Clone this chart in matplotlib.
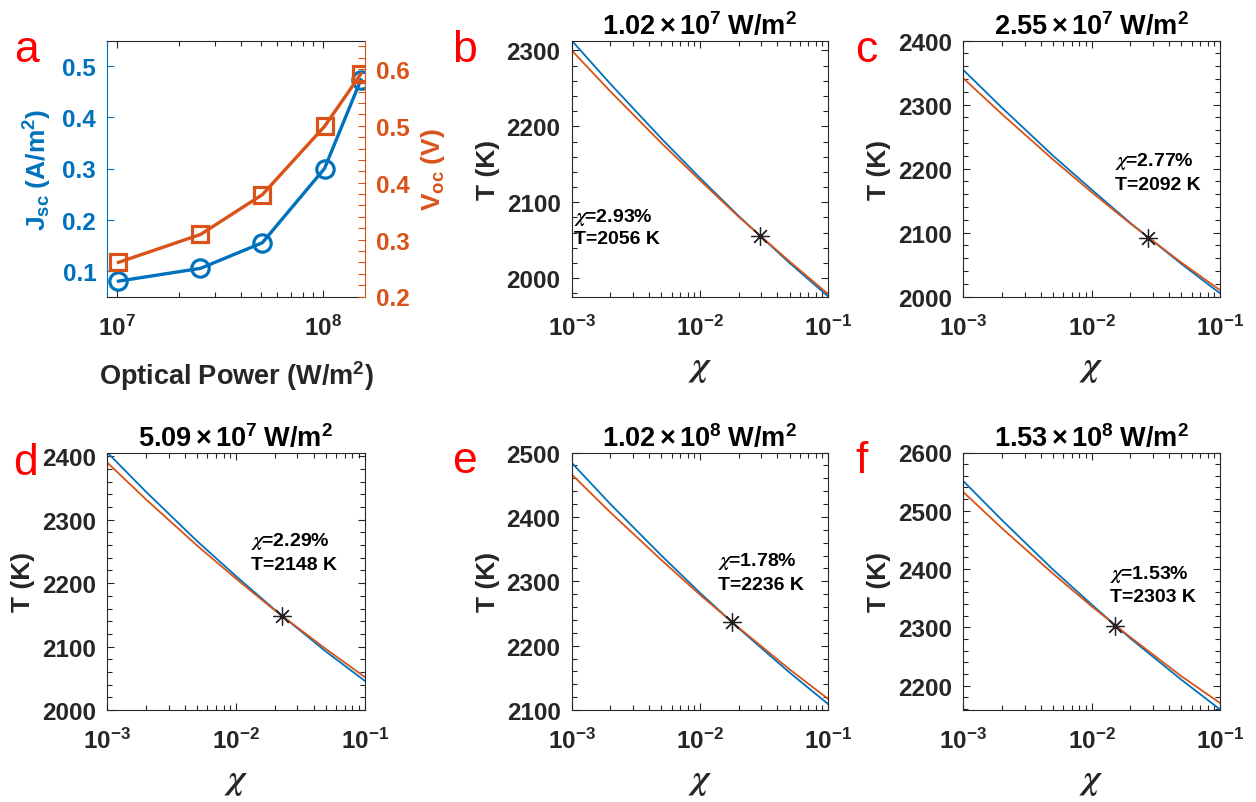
import numpy as np
import matplotlib
matplotlib.use('Agg')
import matplotlib.pyplot as plt
from matplotlib.ticker import FixedLocator, FixedFormatter, MultipleLocator, LogLocator, NullFormatter

plt.rcParams['font.family'] = ['Liberation Sans', 'DejaVu Sans']
plt.rcParams['font.weight'] = 'bold'
plt.rcParams['axes.labelweight'] = 'bold'
plt.rcParams['axes.titleweight'] = 'bold'
plt.rcParams['mathtext.fontset'] = 'custom'
plt.rcParams['mathtext.rm'] = 'Liberation Sans'
plt.rcParams['mathtext.bf'] = 'Liberation Sans:bold'
plt.rcParams['mathtext.it'] = 'STIXGeneral:italic'
plt.rcParams['mathtext.sf'] = 'Liberation Sans'

# ---- data ----
power = [1.02e7, 2.55e7, 5.09e7, 1.02e8, 1.53e8]      # W/m^2
jsc = [0.080, 0.105, 0.155, 0.300, 0.473]            # A/m^2
voc = [0.260, 0.309, 0.379, 0.499, 0.591]            # V

chi = [0.001, 0.002, 0.005, 0.01, 0.02, 0.05, 0.1]
T_blue = [
    [2313, 2256, 2184, 2132, 2082, 2020, 1976],
    [2354, 2295, 2220, 2167, 2115, 2051, 2005],
    [2406, 2344, 2266, 2211, 2158, 2092, 2046],
    [2484, 2420, 2340, 2282, 2227, 2158, 2109],
    [2551, 2484, 2399, 2339, 2281, 2210, 2159],
]
T_orange = [
    [2300, 2246, 2178, 2129, 2081, 2022, 1979],
    [2341, 2285, 2214, 2163, 2114, 2053, 2010],
    [2390, 2332, 2259, 2207, 2157, 2096, 2052],
    [2466, 2407, 2333, 2279, 2228, 2163, 2117],
    [2532, 2470, 2392, 2336, 2283, 2216, 2170],
]
chi_opt = [0.0293, 0.0277, 0.0229, 0.0178, 0.0153]
T_opt = [2056, 2092, 2148, 2236, 2303]
T_lims = [(1976, 2313), (2000, 2400), (2000, 2406), (2100, 2500), (2158, 2600)]

blue = '#0072BD'
orange = '#D95319'
dark = '#262626'
W, H = 1256, 803
fs = 17.5

fig = plt.figure(figsize=(W / 100, H / 100), dpi=100)


def box(left, top, right, bottom):
    return [left / W, 1 - bottom / H, (right - left) / W, (bottom - top) / H]


def ftext(x, y, s, **kw):
    fig.text(x / W, 1 - y / H, s, **kw)


def log_label(e):
    return r'$\mathbf{10^{%d}}$' % e


# ---- panel a ----
ax = fig.add_axes(box(107.3, 41.5, 364.8, 297.5))
ax.set_xscale('log')
ax.plot(power, jsc, '-o', color=blue, lw=2.4, ms=12.5, mew=2.3, mfc='none')
ax.set_xlim(9e6, 1.6e8)
ax.set_ylim(0.05, 0.55)
ax.set_yticks([0.1, 0.2, 0.3, 0.4, 0.5])
ax.set_yticklabels(['0.1', '0.2', '0.3', '0.4', '0.5'])
ax.xaxis.set_major_locator(FixedLocator([1e7, 1e8]))
ax.xaxis.set_major_formatter(FixedFormatter([log_label(7), log_label(8)]))
ax.xaxis.set_minor_locator(LogLocator(base=10, subs=np.arange(2, 10)))
ax.xaxis.set_minor_formatter(NullFormatter())
ax.tick_params(axis='x', which='both', direction='in', top=True, colors=dark,
               labelsize=fs, pad=13)
ax.tick_params(axis='x', which='major', length=5, width=0.8)
ax.tick_params(axis='x', which='minor', length=3.5, width=0.8)
ax.tick_params(axis='y', direction='in', colors=blue, labelsize=fs, pad=8, length=5, width=0.8)
ax.spines['left'].set_color(blue)
ax.spines['right'].set_visible(False)
for s in ['top', 'bottom']:
    ax.spines[s].set_color(dark)
for s in ax.spines.values():
    s.set_linewidth(0.8)
ax.set_ylabel(r'$\mathbf{J_{sc}\ (A/m^2)}$', color=blue, fontsize=19, labelpad=6)
ax.set_xlabel(r'$\mathbf{Optical\ Power\ (W/m^2)}$', color=dark, fontsize=19.5, labelpad=13)

ax2 = ax.twinx()
ax2.plot(power, voc, '-s', color=orange, lw=2.4, ms=11, mew=2.3, mfc='none')
ax2.set_ylim(0.2, 0.65)
ax2.set_yticks([0.2, 0.3, 0.4, 0.5, 0.6])
ax2.set_yticklabels(['0.2', '0.3', '0.4', '0.5', '0.6'])
ax2.yaxis.set_minor_locator(MultipleLocator(0.02))
ax2.tick_params(axis='y', which='both', direction='in', colors=orange, labelsize=fs, pad=8, width=0.8)
ax2.tick_params(axis='y', which='major', length=5)
ax2.tick_params(axis='y', which='minor', length=5)
for s in ['left', 'top', 'bottom']:
    ax2.spines[s].set_visible(False)
ax2.spines['right'].set_color(orange)
ax2.spines['right'].set_linewidth(0.8)
ax2.set_ylabel(r'$\mathbf{V_{oc}\ (V)}$', color=orange, fontsize=19, labelpad=7)

# ---- panels b-f ----
boxes = [
    (571.7, 41.5, 828.3, 297.5),
    (963.3, 41.5, 1220.0, 297.5),
    (107.3, 453.5, 364.8, 711.0),
    (571.7, 453.5, 828.3, 711.0),
    (963.3, 453.5, 1220.0, 711.0),
]
note_pos = [(574, 217, 240), (1115, 162, 185), (251, 542, 565), (718, 562, 585), (1110, 575, 598)]

for i in range(5):
    a = fig.add_axes(box(*boxes[i]))
    a.set_xscale('log')
    a.plot(chi, T_blue[i], color=blue, lw=1.3)
    a.plot(chi, T_orange[i], color=orange, lw=1.3)
    a.plot([chi_opt[i]], [T_opt[i]], marker=(8, 2, 0), color='#222222', ms=13, mew=0.9, ls='none')
    a.set_xlim(1e-3, 1e-1)
    a.set_ylim(*T_lims[i])
    a.xaxis.set_major_locator(FixedLocator([1e-3, 1e-2, 1e-1]))
    a.xaxis.set_major_formatter(FixedFormatter([log_label(-3), log_label(-2), log_label(-1)]))
    a.xaxis.set_minor_locator(LogLocator(base=10, subs=np.arange(2, 10)))
    a.xaxis.set_minor_formatter(NullFormatter())
    a.yaxis.set_major_locator(MultipleLocator(100))
    a.yaxis.set_minor_locator(MultipleLocator(20))
    a.tick_params(which='both', direction='in', top=True, right=True, colors=dark,
                  labelsize=fs, width=0.8)
    a.tick_params(axis='x', which='both', pad=13)
    a.tick_params(axis='y', which='both', pad=8)
    a.tick_params(which='major', length=5)
    a.tick_params(which='minor', length=3.5)
    for s in a.spines.values():
        s.set_color(dark)
        s.set_linewidth(0.8)
    a.set_ylabel('T (K)', fontsize=19, color=dark, labelpad=5)
    a.set_xlabel(r'$\chi$', fontsize=25, color=dark, labelpad=8)
    e = int(np.floor(np.log10(power[i])))
    m = power[i] / 10 ** e
    a.set_title(r'$\mathbf{%.2f}\times\mathbf{10^{%d}\ W/m^{2}}$' % (m, e),
                fontsize=19.5, color='black', pad=5)
    nx, ny1, ny2 = note_pos[i]
    ftext(nx, ny1, r'$\chi$=%.2f%%' % (chi_opt[i] * 100), fontsize=14, color='black', va='center')
    ftext(nx, ny2, 'T=%d K' % T_opt[i], fontsize=14, color='black', va='center')

# panel letters
letters = ['a', 'b', 'c', 'd', 'e', 'f']
letter_pos = [(14, 62), (452, 62), (855, 62), (13, 475), (452, 473), (855, 473)]
for s, (x, y) in zip(letters, letter_pos):
    ftext(x, y, s, fontsize=32, color='red', fontweight='normal', va='baseline', ha='left')

fig.savefig('out.png', dpi=100)
